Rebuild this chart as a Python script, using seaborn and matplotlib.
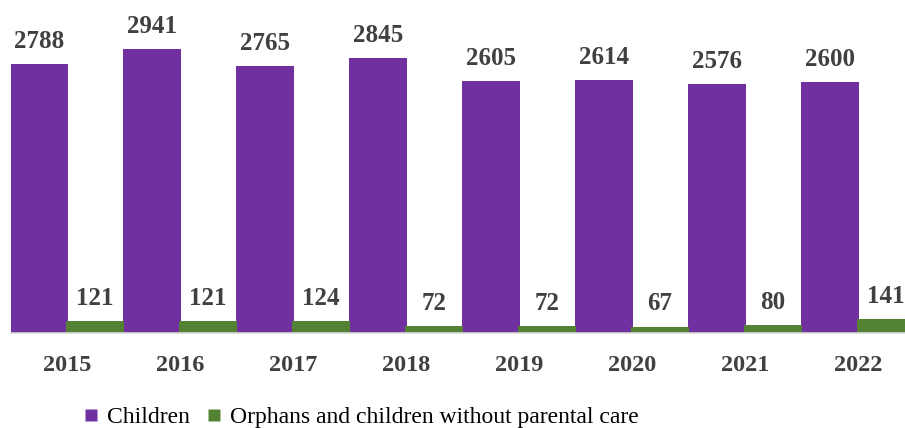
import matplotlib
matplotlib.use("Agg")
import matplotlib.pyplot as plt
from matplotlib.lines import Line2D
import seaborn as sns
import pandas as pd

years = ["2015", "2016", "2017", "2018", "2019", "2020", "2021", "2022"]
children = [2788, 2941, 2765, 2845, 2605, 2614, 2576, 2600]
orphans = [121, 121, 124, 72, 72, 67, 80, 141]
series_names = ["Children", "Orphans and children without parental care"]
colors = ["#7030A0", "#548235"]

df = pd.DataFrame({
    "year": years * 2,
    "value": children + orphans,
    "series": [series_names[0]] * len(years) + [series_names[1]] * len(years),
})

sns.set_theme(style="white")
plt.rcParams["font.family"] = ["Liberation Serif", "DejaVu Serif"]

W, H = 905, 428
fig = plt.figure(figsize=(W / 100, H / 100), dpi=100)
ax_left = 10.5 / W
ax_w = 904 / W
ax_bottom = (H - 333) / H
ax_h = 328 / H
ax = fig.add_axes([ax_left, ax_bottom, ax_w, ax_h])

sns.barplot(data=df, x="year", y="value", hue="series", hue_order=series_names,
            palette=colors, width=0.99, gap=0, dodge=True, ax=ax,
            legend=False, saturation=1, errorbar=None)

for p in ax.patches:
    w = p.get_width()
    x = p.get_x()
    p.set_x(x - 0.006)
    p.set_width(w + 0.012)
    p.set_edgecolor("none")

for cont in ax.containers:
    ax.bar_label(cont, padding=8, fontsize=18, fontweight="bold",
                 color="#404040", family=["Liberation Serif", "DejaVu Serif"])

ax.set_xlim(-0.5, 7.5)
ax.set_ylim(0, 3395)
ax.set_xlabel("")
ax.set_ylabel("")
ax.set_yticks([])
for s in ["top", "right", "left"]:
    ax.spines[s].set_visible(False)
ax.spines["bottom"].set_color("#D9D9D9")
ax.spines["bottom"].set_linewidth(1.2)
ax.tick_params(axis="x", length=0, pad=16, labelsize=17.5, labelcolor="#404040")
for t in ax.get_xticklabels():
    t.set_fontweight("bold")

handles = [Line2D([0], [0], marker="s", linestyle="none", markersize=8,
                  markerfacecolor=c, markeredgecolor="none") for c in colors]
fig.legend(handles, series_names, loc="center", bbox_to_anchor=(360 / W, 11 / H),
           ncol=2, frameon=False, fontsize=17, handletextpad=0.3,
           columnspacing=0.6, handlelength=0.8, borderpad=0, borderaxespad=0,
           labelcolor="black")

fig.savefig("out.png", dpi=100)
